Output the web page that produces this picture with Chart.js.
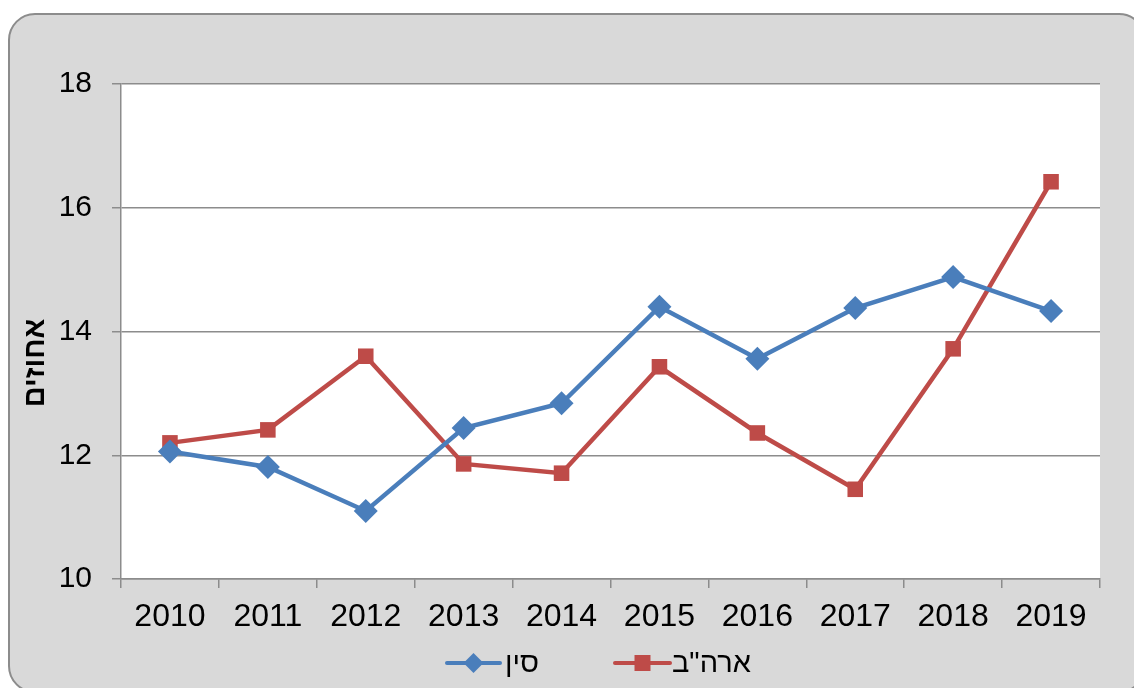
<!DOCTYPE html>
<html>
<head>
<meta charset="utf-8">
<script src="https://cdn.jsdelivr.net/npm/chart.js@4.4.0/dist/chart.umd.min.js"></script>
<style>
  html, body { margin: 0; padding: 0; background: #ffffff; }
  #wrap { width: 1134px; height: 688px; position: relative; }
</style>
</head>
<body>
<div id="wrap"><canvas id="c" width="1134" height="688"></canvas></div>
<script>
const categories = ['2010','2011','2012','2013','2014','2015','2016','2017','2018','2019'];
const chinaLabel = 'סין';
const usaLabel = 'ארה"ב';
const chinaValues = [12.06, 11.81, 11.10, 12.44, 12.84, 14.40, 13.56, 14.38, 14.88, 14.33];
const usaValues   = [12.20, 12.41, 13.60, 11.86, 11.71, 13.43, 12.36, 11.45, 13.72, 16.42];
const yTicks = [10, 12, 14, 16, 18];
const yTitle = 'אחוזים';

const BLUE = '#4a7ebb';
const RED = '#be4b48';
const FONT = '"Liberation Sans", Arial, sans-serif';

const bgPlugin = {
  id: 'bg',
  beforeDraw(chart) {
    const ctx = chart.ctx;
    const a = chart.chartArea;
    ctx.save();
    const x = 9, y = 14, w = 1136, h = 678, r = 26;
    ctx.beginPath();
    ctx.moveTo(x + r, y);
    ctx.lineTo(x + w - r, y);
    ctx.arcTo(x + w, y, x + w, y + r, r);
    ctx.lineTo(x + w, y + h - r);
    ctx.arcTo(x + w, y + h, x + w - r, y + h, r);
    ctx.lineTo(x + r, y + h);
    ctx.arcTo(x, y + h, x, y + h - r, r);
    ctx.lineTo(x, y + r);
    ctx.arcTo(x, y, x + r, y, r);
    ctx.closePath();
    ctx.fillStyle = '#d9d9d9';
    ctx.fill();
    ctx.lineWidth = 2;
    ctx.strokeStyle = '#8c8c8c';
    ctx.stroke();
    ctx.fillStyle = '#ffffff';
    ctx.fillRect(a.left, a.top, a.right - a.left, a.bottom - a.top);
    ctx.restore();
  }
};

const overlayPlugin = {
  id: 'overlay',
  afterDraw(chart) {
    const ctx = chart.ctx;
    ctx.save();
    ctx.translate(36, 363);
    ctx.rotate(-Math.PI / 2);
    ctx.fillStyle = '#000000';
    ctx.font = 'bold 29px ' + FONT;
    ctx.textAlign = 'center';
    ctx.textBaseline = 'middle';
    ctx.fillText(yTitle, 0, 0);
    ctx.restore();

    const items = [
      { ds: chart.data.datasets[0], x0: 447, x1: 500, tx: 505, shape: 'diamond' },
      { ds: chart.data.datasets[1], x0: 615, x1: 670, tx: 672, shape: 'square' }
    ];
    const cy = 663;
    items.forEach(it => {
      const color = it.ds.borderColor;
      ctx.save();
      ctx.strokeStyle = color;
      ctx.lineWidth = 4;
      ctx.lineCap = 'round';
      ctx.beginPath();
      ctx.moveTo(it.x0, cy);
      ctx.lineTo(it.x1, cy);
      ctx.stroke();
      ctx.fillStyle = color;
      const cx = (it.x0 + it.x1) / 2;
      ctx.beginPath();
      if (it.shape === 'diamond') {
        ctx.moveTo(cx, cy - 10); ctx.lineTo(cx + 10, cy); ctx.lineTo(cx, cy + 10); ctx.lineTo(cx - 10, cy);
        ctx.closePath();
      } else {
        ctx.rect(cx - 8, cy - 8, 16, 16);
      }
      ctx.fill();
      ctx.fillStyle = '#000000';
      ctx.font = '29px ' + FONT;
      ctx.textAlign = 'left';
      ctx.textBaseline = 'middle';
      ctx.fillText(it.ds.label, it.tx, cy + 1);
      ctx.restore();
    });
  }
};

new Chart(document.getElementById('c'), {
  type: 'line',
  data: {
    labels: categories,
    datasets: [
      {
        label: chinaLabel,
        data: chinaValues,
        borderColor: BLUE,
        backgroundColor: BLUE,
        borderWidth: 4.5,
        pointStyle: 'rectRot',
        pointRadius: 12,
        pointHoverRadius: 12,
        pointBorderWidth: 0,
        tension: 0
      },
      {
        label: usaLabel,
        data: usaValues,
        borderColor: RED,
        backgroundColor: RED,
        borderWidth: 4.5,
        pointStyle: 'rect',
        pointRadius: 11,
        pointHoverRadius: 11,
        pointBorderWidth: 0,
        tension: 0
      }
    ]
  },
  options: {
    responsive: false,
    animation: false,
    events: [],
    layout: { padding: { left: 0, right: 34, top: 84, bottom: 0 } },
    scales: {
      x: {
        offset: true,
        grid: {
          offset: true,
          display: true,
          drawOnChartArea: false,
          drawTicks: true,
          tickLength: 9,
          color: '#8c8c8c',
          lineWidth: 1.5
        },
        border: { display: true, color: '#8c8c8c', width: 1.5 },
        ticks: {
          color: '#000000',
          font: { family: FONT, size: 32 },
          padding: 10,
          maxRotation: 0
        },
        afterFit(s) { s.height = 109; }
      },
      y: {
        min: 10,
        max: 18,
        afterBuildTicks(s) { s.ticks = yTicks.map(v => ({ value: v })); },
        grid: {
          color: '#8c8c8c',
          lineWidth: 1.5,
          tickLength: 9
        },
        border: { display: true, color: '#8c8c8c', width: 1.5 },
        ticks: {
          color: '#000000',
          font: { family: FONT, size: 30 },
          padding: 20
        },
        title: { display: false },
        afterFit(s) { s.width = 121; }
      }
    },
    plugins: {
      legend: { display: false },
      tooltip: { enabled: false }
    }
  },
  plugins: [bgPlugin, overlayPlugin]
});
</script>
</body>
</html>
